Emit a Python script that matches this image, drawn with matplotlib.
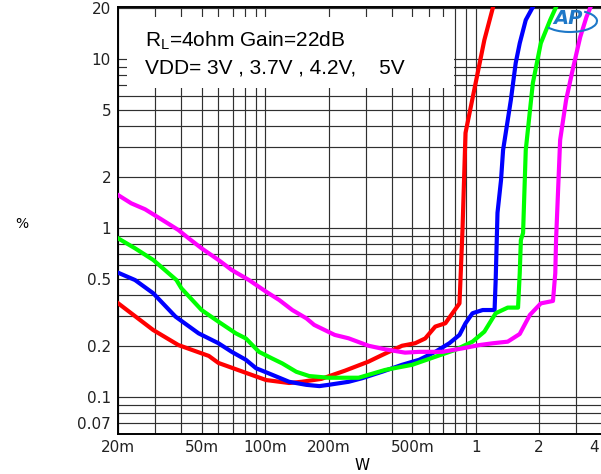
import numpy as np
from matplotlib import pyplot as plt
from matplotlib.patches import Rectangle, Arc

# output power (W) / THD+N (%)
p_3v = [0.02, 0.0294, 0.0387, 0.0494, 0.054, 0.060, 0.081, 0.101, 0.130, 0.149, 0.185, 0.239,
        0.31, 0.359, 0.447, 0.516, 0.576, 0.643, 0.718, 0.838, 0.847, 0.866, 0.895, 1.0, 1.10, 1.21]
thd_3v = [0.359, 0.249, 0.203, 0.182, 0.175, 0.159, 0.139, 0.126, 0.121, 0.123, 0.128, 0.143,
          0.162, 0.177, 0.201, 0.208, 0.222, 0.261, 0.273, 0.358, 0.492, 0.973, 3.65, 7.21, 12.95, 20.3]

p_37v = [0.02, 0.0241, 0.0294, 0.0375, 0.0483, 0.060, 0.0694, 0.081, 0.0905, 0.104, 0.130, 0.157,
         0.181, 0.2, 0.249, 0.288, 0.359, 0.447, 0.539, 0.643, 0.75, 0.838, 0.895, 0.966, 1.08,
         1.23, 1.245, 1.27, 1.32, 1.35, 1.47, 1.55, 1.62, 1.73, 1.87]
thd_37v = [0.544, 0.492, 0.411, 0.299, 0.238, 0.208, 0.185, 0.166, 0.148, 0.138, 0.123, 0.118,
           0.116, 0.118, 0.123, 0.129, 0.141, 0.155, 0.166, 0.185, 0.208, 0.233, 0.273, 0.313, 0.327,
           0.327, 0.492, 1.23, 1.92, 2.89, 5.72, 9.47, 12.4, 17.0, 20.3]

p_42v = [0.02, 0.0241, 0.0294, 0.0379, 0.040, 0.0499, 0.060, 0.0726, 0.081, 0.0935, 0.108, 0.1206,
         0.1406, 0.162, 0.2, 0.278, 0.371, 0.499, 0.643, 0.80, 0.966, 1.10, 1.245, 1.42, 1.59,
         1.62, 1.64, 1.68, 1.73, 1.87, 2.04, 2.26, 2.41]
thd_42v = [0.869, 0.758, 0.647, 0.492, 0.44, 0.327, 0.279, 0.238, 0.222, 0.185, 0.169, 0.158,
           0.141, 0.133, 0.130, 0.130, 0.1445, 0.155, 0.173, 0.19, 0.2125, 0.2435, 0.313, 0.338, 0.338,
           0.542, 0.849, 0.934, 2.89, 7.21, 12.4, 17.0, 20.3]

p_5v = [0.02, 0.0231, 0.0269, 0.0321, 0.0387, 0.0433, 0.0499, 0.060, 0.0694, 0.0838, 0.101, 0.1166,
        0.1346, 0.157, 0.171, 0.214, 0.249, 0.31, 0.371, 0.462, 0.539, 0.694, 0.866, 1.044, 1.21,
        1.42, 1.62, 1.81, 2.04, 2.33, 2.39, 2.41, 2.52, 2.69, 2.91, 3.14, 3.36, 3.55]
thd_5v = [1.567, 1.40, 1.29, 1.126, 0.973, 0.869, 0.758, 0.647, 0.564, 0.492, 0.42, 0.375,
          0.327, 0.292, 0.267, 0.233, 0.2225, 0.201, 0.1915, 0.183, 0.185, 0.185, 0.194, 0.203, 0.208,
          0.2125, 0.236, 0.306, 0.358, 0.37, 0.542, 0.849, 3.32, 5.72, 8.97, 13.5, 17.7, 20.9]

x_grid = [0.02, 0.03, 0.04, 0.05, 0.06, 0.07, 0.08, 0.09, 0.1, 0.2, 0.3, 0.4, 0.5, 0.6, 0.7,
          0.8, 0.9, 1, 2, 3]
x_labels = {0.02: '20m', 0.05: '50m', 0.1: '100m', 0.2: '200m', 0.5: '500m', 1: '1', 2: '2'}
y_grid = [0.07, 0.08, 0.09, 0.1, 0.2, 0.3, 0.4, 0.5, 0.6, 0.7, 0.8, 0.9, 1, 2, 3, 4, 5, 6, 7,
          8, 9, 10, 20]
y_labels = {0.07: '0.07', 0.1: '0.1', 0.2: '0.2', 0.5: '0.5', 1: '1', 2: '2', 5: '5',
            10: '10', 20: '20'}


def main():
    plt.rcParams['mathtext.fontset'] = 'custom'
    plt.rcParams['mathtext.rm'] = 'Liberation Sans'

    fig = plt.figure(figsize=(6.01, 4.74), dpi=100)
    ax = fig.add_axes([118 / 601, 40 / 474, 483 / 601, 427 / 474])
    ax.set_xscale('log')
    ax.set_yscale('log')
    ax.set_xlim(0.02, 3.94)
    ax.set_ylim(0.0604, 20.3)

    for v in x_grid:
        ax.axvline(v, color='#303030', lw=0.85, zorder=1)
    for v in y_grid:
        ax.axhline(v, color='#303030', lw=0.85, zorder=1)

    ax.set_xticks(x_grid)
    ax.set_xticklabels([x_labels.get(v, '') for v in x_grid])
    ax.set_yticks(y_grid)
    ax.set_yticklabels([y_labels.get(v, '') for v in y_grid])
    ax.minorticks_off()
    ax.tick_params(axis='x', length=0, pad=4, labelsize=11, colors='#222222')
    ax.tick_params(axis='y', length=0, pad=5, labelsize=11, colors='#222222')
    for lab in ax.get_xticklabels() + ax.get_yticklabels():
        lab.set_family('DejaVu Sans')

    ax.spines['right'].set_visible(False)
    for s in ['left', 'bottom', 'top']:
        ax.spines[s].set_linewidth(1.4)
        ax.spines[s].set_color('black')

    ax.plot(p_3v, thd_3v, color='#ff0000', lw=3, zorder=3)
    ax.plot(p_37v, thd_37v, color='#0000ff', lw=3, zorder=3)
    ax.plot(p_42v, thd_42v, color='#00ff00', lw=3, zorder=3)
    ax.plot(p_5v, thd_5v, color='#ff00ff', lw=3, zorder=3)

    # white label box over the grid
    fig.patches.append(Rectangle((127 / 601, 1 - 88 / 474), 327 / 601, 71 / 474,
                                 transform=fig.transFigure, facecolor='white',
                                 edgecolor='none', zorder=2))
    fig.text(145 / 601, 1 - 41 / 474, r'R$_\mathrm{L}$=4ohm Gain=22dB', fontsize=15,
             family='Liberation Sans', va='center', zorder=5)
    fig.text(145 / 601, 1 - 68 / 474, 'VDD= 3V , 3.7V , 4.2V,    5V', fontsize=15,
             family='Liberation Sans', va='center', zorder=5)

    # last x tick label sits right on the edge
    fig.text(594 / 601, 1 - 447 / 474, '4', fontsize=11, family='DejaVu Sans',
             color='#222222', ha='center', va='center')

    fig.text(22 / 601, 1 - 224 / 474, '%', fontsize=10, family='DejaVu Sans', ha='center',
             va='center')
    fig.text(362 / 601, 1 - 465 / 474, 'W', fontsize=11, family='DejaVu Sans', ha='center',
             va='center')

    # AP logo
    fig.text(568 / 601, 1 - 19 / 474, 'AP', fontsize=14, family='DejaVu Sans', style='italic',
             weight='bold', color='#1e78c8', ha='center', va='center', zorder=6)
    fig.patches.append(Arc((570 / 601, 1 - 21 / 474), 54 / 601, 22 / 474, theta1=200, theta2=40,
                           transform=fig.transFigure, color='#1e78c8', lw=1.5, zorder=6))

    fig.savefig('out.png', dpi=100)


if __name__ == '__main__':
    main()
